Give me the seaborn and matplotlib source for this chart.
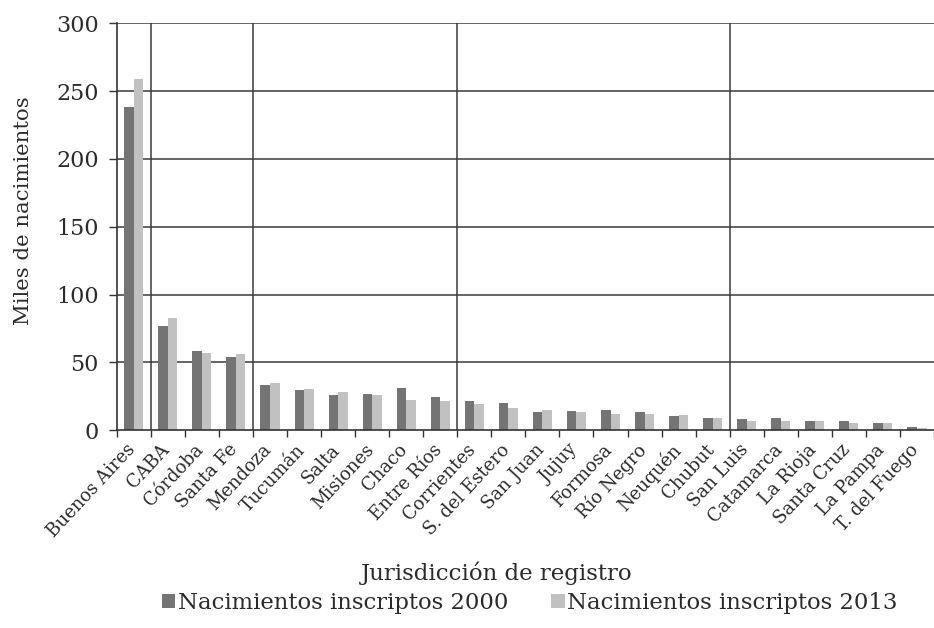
import matplotlib
matplotlib.use('Agg')
import matplotlib.pyplot as plt
import matplotlib.transforms as mtransforms
import pandas as pd
import seaborn as sns

jurisdicciones = ['Buenos Aires', 'CABA', 'Córdoba', 'Santa Fe', 'Mendoza', 'Tucumán',
                  'Salta', 'Misiones', 'Chaco', 'Entre Ríos', 'Corrientes', 'S. del Estero',
                  'San Juan', 'Jujuy', 'Formosa', 'Río Negro', 'Neuquén', 'Chubut',
                  'San Luis', 'Catamarca', 'La Rioja', 'Santa Cruz', 'La Pampa', 'T. del Fuego']
nac_2000 = [238, 77, 58.2, 54.3, 33.4, 29.5, 26.3, 27.0, 31.0, 24.1, 21.2, 20.2,
            13.3, 14.3, 15.0, 13.5, 10.1, 9.3, 7.9, 8.9, 6.4, 6.4, 5.4, 2.2]
nac_2013 = [259, 82.5, 56.7, 56.0, 34.6, 30.2, 27.8, 26.3, 22.6, 21.7, 19.5, 16.5,
            15.0, 13.5, 11.8, 11.8, 11.1, 9.3, 6.9, 6.4, 6.4, 5.4, 5.4, 1.8]
series = ['Nacimientos inscriptos 2000', 'Nacimientos inscriptos 2013']
separadores = [0.5, 3.5, 9.5, 17.5]

df = pd.DataFrame({
    'jurisdiccion': jurisdicciones * 2,
    'miles': nac_2000 + nac_2013,
    'serie': [series[0]] * len(jurisdicciones) + [series[1]] * len(jurisdicciones),
})

sns.set_theme(style='white')
plt.rcParams['font.family'] = ['DejaVu Serif']
plt.rcParams['text.color'] = '#2b2b2b'
plt.rcParams['xtick.color'] = '#2b2b2b'
plt.rcParams['ytick.color'] = '#2b2b2b'
plt.rcParams['axes.labelcolor'] = '#2b2b2b'

fig = plt.figure(figsize=(9.34, 6.28), dpi=100)
ax = fig.add_axes([0.125, 0.315, 0.875, 0.648])

sns.barplot(data=df, x='jurisdiccion', y='miles', hue='serie', ax=ax,
            palette=['#747474', '#c1c1c1'], width=0.56, saturation=1,
            linewidth=0, legend=True)

ax.set_ylim(0, 300)
ax.set_xlim(-0.5, 23.5)
ax.set_yticks(range(0, 301, 50))
for y in range(50, 301, 50):
    ax.axhline(y, color='#3a3a3a', linewidth=1.1, zorder=0)
for x in separadores:
    ax.axvline(x, color='#3a3a3a', linewidth=1.1, zorder=0)

ax.set_xticks([i + 0.5 for i in range(-1, 24)], minor=True)
ax.tick_params(axis='x', which='minor', length=5, width=1, color='#333333', direction='out', bottom=True)
ax.tick_params(axis='x', which='major', length=0, labelsize=13, pad=4)
ax.tick_params(axis='y', length=6, width=1, color='#333333', direction='out', left=True, labelsize=16, pad=7)
ax.set_xticks(range(24))
ax.set_xticklabels(jurisdicciones, rotation=47, ha='right', rotation_mode='anchor')
desplazamiento = mtransforms.ScaledTranslation(-0.08, -0.05, fig.dpi_scale_trans)
for lbl in ax.get_xticklabels():
    lbl.set_transform(lbl.get_transform() + desplazamiento)

for s in ['top', 'right']:
    ax.spines[s].set_visible(False)
for s in ['left', 'bottom']:
    ax.spines[s].set_color('#333333')
    ax.spines[s].set_linewidth(1.2)

ax.set_ylabel('Miles de nacimientos', fontsize=15.3)
ax.yaxis.set_label_coords(-0.103, 0.54)
ax.set_xlabel('Jurisdicción de registro', fontsize=16.5)
ax.xaxis.set_label_coords(0.465, -0.351)
ax.xaxis.label.set_va('center')

handles, labels = ax.get_legend_handles_labels()
ax.get_legend().remove()
fig.legend(handles, labels, loc='center', bbox_to_anchor=(0.567, 0.04), ncol=2,
           frameon=False, fontsize=16.4, handlelength=0.6, handleheight=0.6,
           handletextpad=0.1, columnspacing=1.9)

fig.savefig('out.png', dpi=100)
